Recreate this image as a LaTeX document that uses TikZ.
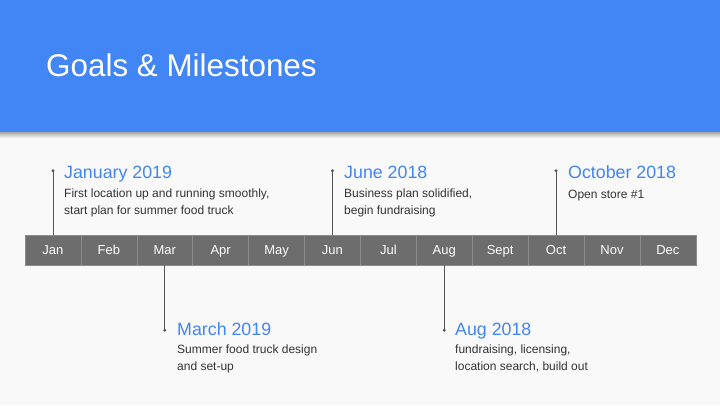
\documentclass[tikz,border=0pt]{standalone}
\usepackage{fontspec}
\setmainfont{Liberation Sans}
\usepackage{tikz}
\usetikzlibrary{positioning}
\definecolor{gblue}{HTML}{4285F4}
\definecolor{bar}{HTML}{6D6D6D}
\definecolor{sep}{HTML}{8C8C8C}
\definecolor{ink}{HTML}{333333}
\definecolor{stem}{HTML}{555555}
\definecolor{page}{HTML}{F9F9F9}

\begin{document}
\begin{tikzpicture}[x=1pt,y=-1pt,
    month/.style={fill=bar,draw=sep,line width=0.6pt,minimum width=55.9pt,minimum height=30pt,
      inner sep=0pt,text height=11pt,text depth=2pt,text=white,font=\fontsize{13}{15}\selectfont},
    head/.style={anchor=base west,inner sep=0pt,text=gblue,font=\fontsize{17.8}{20}\selectfont},
    body/.style={anchor=base west,inner sep=0pt,text=ink,align=left,font=\fontsize{12}{16.7}\selectfont},
    stemline/.style={draw=stem,line width=0.8pt}]
  \useasboundingbox (0,0) rectangle (720,405);
  \fill[page] (0,0) rectangle (720,405);
  % header band
  \shade[top color=black!35,bottom color=page] (0,132) rectangle (720,138);
  \fill[gblue] (0,0) rectangle (720,132);
  \node[anchor=base west,inner sep=0pt,text=white,font=\fontsize{31.4}{36}\selectfont] (title) at (46,76) {Goals \& Milestones};
  % timeline
  \foreach \m [count=\i] in {Jan,Feb,Mar,Apr,May,Jun,Jul,Aug,Sept,Oct,Nov,Dec}
    \node[month] (m\i) at ({25+55.9*(\i-0.5)},250) {\m};
  % milestones above (body baseline = last line)
  \coordinate (d1) at ([yshift=64pt]m1.north);
  \node[head] (h1) at (64,178) {January 2019};
  \node[body] (b1) at (64,214.5) {First location up and running smoothly,\\start plan for summer food truck};
  \coordinate (d6) at ([yshift=64pt]m6.north);
  \node[head] (h6) at (344,178) {June 2018};
  \node[body] (b6) at (344,214.5) {Business plan solidified,\\begin fundraising};
  \coordinate (d10) at ([yshift=64pt]m10.north);
  \node[head] (h10) at (568,178) {October 2018};
  \node[body] (b10) at (568,198) {Open store \#1};
  % milestones below
  \coordinate (d3) at ([yshift=-65pt]m3.south);
  \node[head] (h3) at (177,335) {March 2019};
  \node[body] (b3) at (177,370.5) {Summer food truck design\\and set-up};
  \coordinate (d8) at ([yshift=-65pt]m8.south);
  \node[head] (h8) at (455,335) {Aug 2018};
  \node[body] (b8) at (455,370.5) {fundraising, licensing,\\location search, build out};
  % stems
  \foreach \i in {1,6,10} {
    \draw[stemline] (d\i) -- (m\i.north);
    \fill[stem] (d\i) circle (1.6);
  }
  \foreach \i in {3,8} {
    \draw[stemline] (m\i.south) -- (d\i);
    \fill[stem] (d\i) circle (1.6);
  }
\end{tikzpicture}
\end{document}
